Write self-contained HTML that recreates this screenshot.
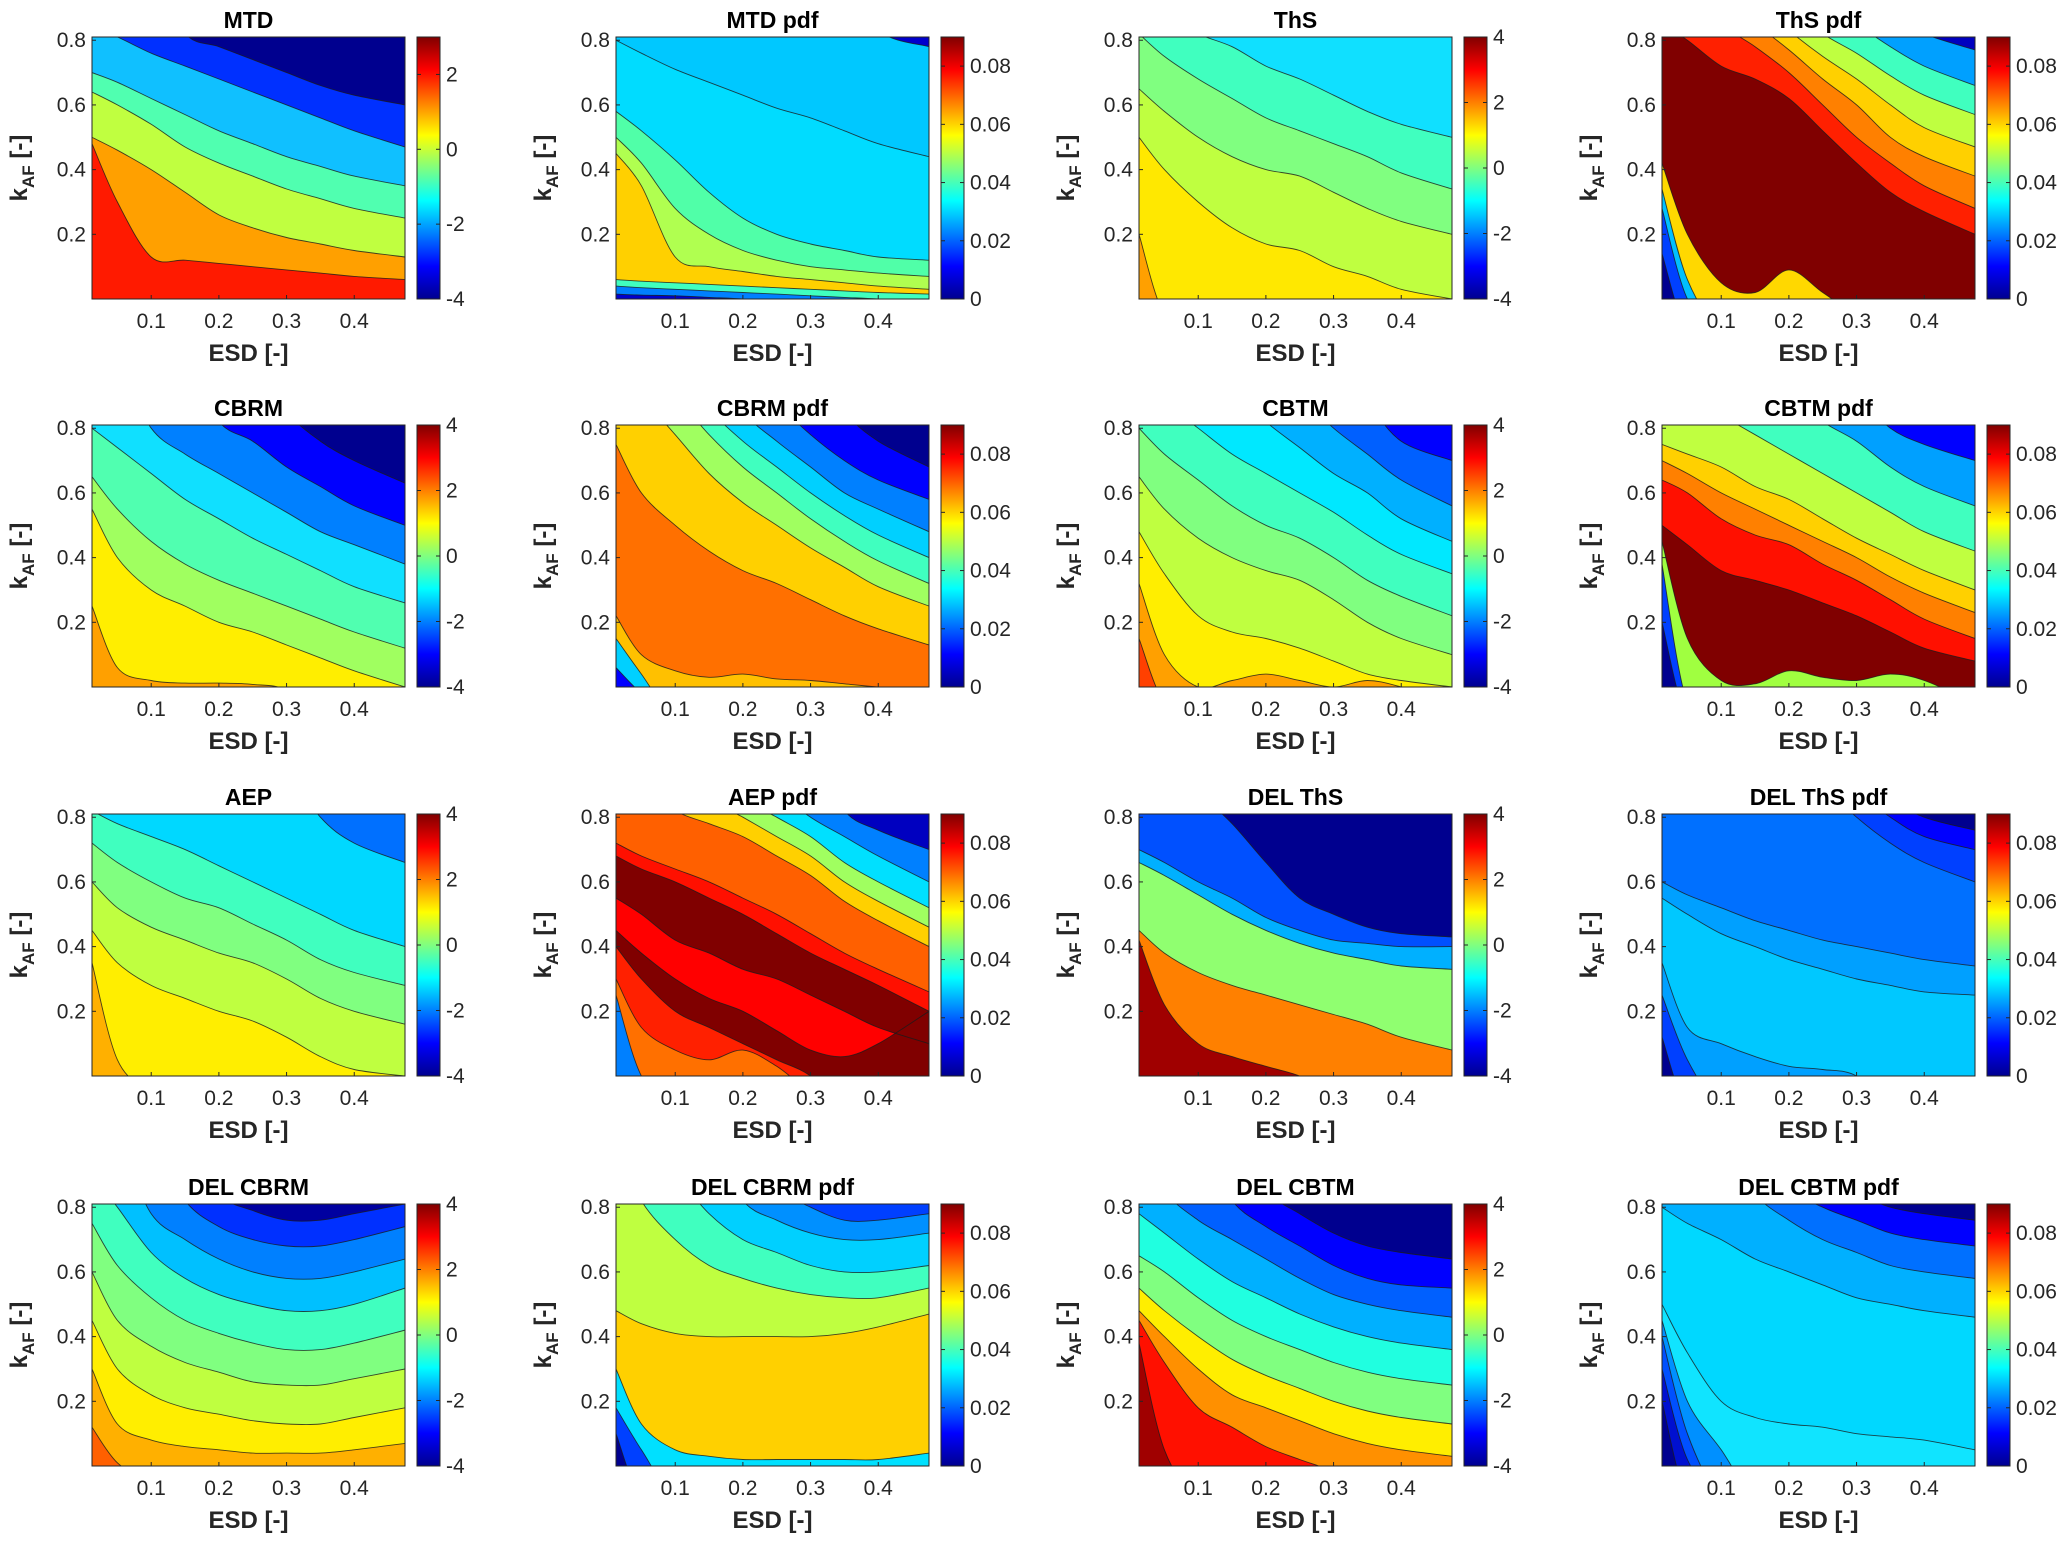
<!DOCTYPE html>
<html><head><meta charset="utf-8">
<style>
html,body{margin:0;padding:0;background:#fff;}
svg{display:block;font-family:"Liberation Sans",Arial,sans-serif;}
</style></head>
<body>
<svg id="fig" width="2067" height="1545" viewBox="0 0 2067 1545" xmlns="http://www.w3.org/2000/svg">
<defs>
<linearGradient id="jet" x1="0" y1="1" x2="0" y2="0">
<stop offset="0" stop-color="#00008f"/><stop offset="0.125" stop-color="#0000ff"/>
<stop offset="0.375" stop-color="#00ffff"/><stop offset="0.625" stop-color="#ffff00"/>
<stop offset="0.875" stop-color="#ff0000"/><stop offset="1" stop-color="#800000"/>
</linearGradient>
</defs>
</svg>
<script>
const esdGrid = [0.0125,0.05,0.1,0.15,0.2,0.25,0.3,0.35,0.4,0.475];
const xTicks = [0.1,0.2,0.3,0.4];
const yTicks = [0.2,0.4,0.6,0.8];
const cbTicksMain = [4,2,0,-2,-4];
const cbTicksMtd = [2,0,-2,-4];
const cbTicksPdf = [0.08,0.06,0.04,0.02,0];
const panelTitles = ["MTD","MTD pdf","ThS","ThS pdf","CBRM","CBRM pdf","CBTM","CBTM pdf","AEP","AEP pdf","DEL ThS","DEL ThS pdf","DEL CBRM","DEL CBRM pdf","DEL CBTM","DEL CBTM pdf"];
const panelIsPdf = [0,1,0,1,0,1,0,1,0,1,0,1,0,1,0,1];
const panelCurves = [
 [[1,1,1,0.82,0.78,0.74,0.7,0.66,0.63,0.6],[0.84,0.81,0.76,0.72,0.68,0.64,0.6,0.56,0.52,0.47],[0.70,0.67,0.62,0.57,0.52,0.48,0.44,0.41,0.38,0.35],[0.64,0.6,0.54,0.47,0.42,0.38,0.34,0.31,0.28,0.25],[0.50,0.46,0.40,0.33,0.26,0.22,0.19,0.17,0.15,0.13],[0.48,0.30,0.13,0.12,0.11,0.10,0.09,0.08,0.07,0.06]],
 [[1,1,1,1,1,1,1,1,0.83,0.78],[0.8,0.76,0.71,0.67,0.63,0.59,0.56,0.52,0.48,0.44],[0.58,0.52,0.43,0.33,0.25,0.2,0.17,0.15,0.13,0.12],[0.5,0.42,0.28,0.2,0.15,0.12,0.1,0.09,0.08,0.07],[0.45,0.35,0.13,0.1,0.085,0.07,0.06,0.05,0.04,0.03],[0.06,0.055,0.05,0.045,0.04,0.035,0.03,0.025,0.02,0.015],[0.04,0.035,0.03,0.025,0.02,0.015,0.01,0.005,0,-0.01],[0.015,0.012,0.01,0.005,0,-0.01,-0.01,-0.01,-0.01,-0.01]],
 [[0.95,0.88,0.82,0.78,0.72,0.68,0.63,0.58,0.54,0.5],[0.82,0.75,0.68,0.62,0.56,0.52,0.48,0.44,0.39,0.34],[0.65,0.58,0.5,0.44,0.4,0.38,0.33,0.28,0.24,0.2],[0.5,0.4,0.3,0.22,0.17,0.15,0.1,0.07,0.03,0.0],[0.2,-0.05,-0.1,-0.1,-0.1,-0.1,-0.1,-0.1,-0.1,-0.1]],
 [[1,1,1,1,1,1,1,0.88,0.82,0.77],[1,1,1,1,1,0.92,0.85,0.78,0.72,0.66],[1,1,1,1,0.9,0.82,0.76,0.69,0.63,0.57],[1,1,1,0.92,0.83,0.75,0.68,0.6,0.53,0.47],[1,1,0.92,0.85,0.77,0.68,0.6,0.5,0.44,0.38],[1,0.96,0.85,0.78,0.7,0.6,0.5,0.42,0.35,0.28],[0.85,0.8,0.72,0.68,0.62,0.52,0.42,0.33,0.27,0.2],[0.42,0.2,0.05,0.02,0.09,0.02,-0.05,-0.1,-0.1,-0.1],[0.34,0.06,-0.1,-0.1,-0.1,-0.1,-0.1,-0.1,-0.1,-0.1],[0.28,0.0,-0.1,-0.1,-0.1,-0.1,-0.1,-0.1,-0.1,-0.1],[0.14,-0.1,-0.1,-0.1,-0.1,-0.1,-0.1,-0.1,-0.1,-0.1]],
 [[1,1,1,1,1,1,0.85,0.76,0.7,0.63],[1,1,1,1,0.82,0.76,0.68,0.62,0.56,0.5],[1,1,0.8,0.72,0.66,0.6,0.54,0.48,0.44,0.38],[0.8,0.74,0.66,0.58,0.52,0.46,0.41,0.36,0.31,0.26],[0.65,0.55,0.45,0.38,0.33,0.29,0.25,0.21,0.17,0.12],[0.55,0.4,0.3,0.25,0.2,0.17,0.13,0.09,0.05,0.0],[0.25,0.06,0.02,0.012,0.012,0.008,-0.01,-0.1,-0.1,-0.1]],
 [[1,1,1,1,1,1,1,0.85,0.76,0.68],[1,1,1,1,1,0.88,0.78,0.7,0.64,0.58],[1,1,1,1,0.85,0.76,0.68,0.6,0.55,0.48],[1,1,1,0.86,0.76,0.68,0.6,0.53,0.47,0.4],[1,1,0.9,0.78,0.68,0.6,0.52,0.45,0.39,0.32],[1,0.9,0.78,0.66,0.57,0.5,0.43,0.37,0.31,0.25],[0.75,0.6,0.5,0.42,0.36,0.32,0.27,0.22,0.18,0.13],[0.22,0.1,0.05,0.03,0.04,0.025,0.02,0.01,0,-0.01],[0.15,0.04,-0.1,-0.1,-0.1,-0.1,-0.1,-0.1,-0.1,-0.1],[0.06,-0.02,-0.1,-0.1,-0.1,-0.1,-0.1,-0.1,-0.1,-0.1]],
 [[1,1,1,1,1,1,1,0.88,0.76,0.7],[1,1,1,1,1,0.9,0.8,0.72,0.64,0.56],[1,1,1,0.92,0.82,0.74,0.66,0.6,0.52,0.45],[0.95,0.88,0.8,0.72,0.66,0.6,0.54,0.47,0.41,0.35],[0.8,0.72,0.64,0.56,0.5,0.46,0.4,0.33,0.28,0.22],[0.65,0.55,0.46,0.4,0.36,0.33,0.27,0.2,0.15,0.1],[0.48,0.35,0.22,0.17,0.15,0.12,0.08,0.04,0.02,0],[0.32,0.1,0,0.02,0.04,0.02,0.0,0.02,0,-0.05],[0.15,-0.05,-0.1,-0.1,-0.1,-0.1,-0.1,-0.1,-0.1,-0.1]],
 [[1,1,1,1,1,1,0.9,0.8,0.75,0.7],[1,1,1,1,0.9,0.82,0.76,0.68,0.62,0.56],[1,0.9,0.84,0.78,0.72,0.66,0.6,0.54,0.48,0.42],[0.75,0.72,0.68,0.62,0.58,0.52,0.46,0.41,0.36,0.3],[0.7,0.66,0.6,0.55,0.5,0.45,0.4,0.34,0.29,0.23],[0.64,0.6,0.52,0.47,0.44,0.38,0.33,0.27,0.21,0.15],[0.5,0.44,0.36,0.33,0.3,0.26,0.22,0.17,0.12,0.08],[0.45,0.15,0.02,0.01,0.05,0.03,0.02,0.04,0.02,-0.05],[0.38,-0.05,-0.1,-0.1,-0.1,-0.1,-0.1,-0.1,-0.1,-0.1],[0.2,-0.1,-0.1,-0.1,-0.1,-0.1,-0.1,-0.1,-0.1,-0.1]],
 [[1,1,1,1,1,1,0.95,0.8,0.72,0.66],[0.82,0.78,0.74,0.7,0.65,0.6,0.55,0.5,0.45,0.4],[0.72,0.66,0.6,0.55,0.52,0.47,0.42,0.36,0.32,0.28],[0.6,0.52,0.46,0.42,0.38,0.35,0.3,0.24,0.2,0.16],[0.45,0.35,0.28,0.24,0.2,0.17,0.12,0.06,0.02,0],[0.35,0.05,-0.05,-0.1,-0.1,-0.1,-0.1,-0.1,-0.1,-0.1]],
 [[1,1,1,1,1,1,1,0.82,0.76,0.7],[1,1,1,1,1,0.88,0.8,0.74,0.68,0.6],[1,1,1,1,0.86,0.8,0.74,0.66,0.6,0.52],[1,1,1,0.86,0.8,0.74,0.68,0.6,0.54,0.46],[1,0.9,0.82,0.78,0.74,0.68,0.62,0.54,0.48,0.4],[0.72,0.68,0.64,0.6,0.55,0.5,0.44,0.38,0.33,0.26],[0.68,0.64,0.6,0.55,0.5,0.44,0.38,0.33,0.28,0.2],[0.55,0.5,0.42,0.38,0.33,0.3,0.25,0.2,0.15,0.1],[0.45,0.38,0.3,0.24,0.2,0.14,0.08,0.06,0.1,0.2],[0.4,0.3,0.2,0.15,0.1,0.05,0,-0.1,-0.1,-0.1],[0.3,0.15,0.08,0.05,0.08,0.03,-0.05,-0.1,-0.1,-0.1],[0.25,0.0,-0.1,-0.1,-0.1,-0.1,-0.1,-0.1,-0.1,-0.1]],
 [[1,1,0.88,0.78,0.66,0.55,0.5,0.46,0.44,0.43],[0.7,0.66,0.6,0.55,0.49,0.45,0.42,0.41,0.4,0.4],[0.66,0.62,0.56,0.5,0.45,0.41,0.38,0.36,0.34,0.33],[0.45,0.38,0.32,0.28,0.25,0.22,0.19,0.16,0.12,0.08],[0.42,0.22,0.1,0.06,0.03,0,-0.05,-0.1,-0.1,-0.1]],
 [[1,1,1,1,1,1,1,0.86,0.8,0.76],[1,1,1,1,1,1,0.88,0.8,0.74,0.7],[1,1,1,1,1,0.9,0.8,0.72,0.66,0.6],[0.6,0.56,0.52,0.48,0.45,0.42,0.4,0.38,0.36,0.34],[0.55,0.5,0.44,0.4,0.36,0.33,0.3,0.28,0.26,0.25],[0.35,0.15,0.1,0.06,0.03,0.02,0,-0.1,-0.1,-0.1],[0.25,0.05,-0.1,-0.1,-0.1,-0.1,-0.1,-0.1,-0.1,-0.1],[0.12,-0.1,-0.1,-0.1,-0.1,-0.1,-0.1,-0.1,-0.1,-0.1]],
 [[1,1,1,1,0.84,0.79,0.76,0.76,0.78,0.81],[1,1,1,0.82,0.74,0.7,0.68,0.68,0.7,0.74],[1,1,0.78,0.7,0.64,0.6,0.58,0.58,0.6,0.64],[0.9,0.8,0.66,0.58,0.53,0.5,0.48,0.48,0.5,0.55],[0.75,0.62,0.52,0.45,0.41,0.38,0.36,0.36,0.38,0.42],[0.6,0.45,0.37,0.32,0.29,0.26,0.25,0.25,0.27,0.3],[0.45,0.3,0.22,0.18,0.16,0.14,0.13,0.13,0.15,0.18],[0.3,0.13,0.08,0.06,0.05,0.04,0.04,0.04,0.05,0.07],[0.12,0.01,-0.05,-0.1,-0.1,-0.1,-0.1,-0.1,-0.1,-0.1]],
 [[1,1,1,1,1,0.86,0.8,0.76,0.76,0.78],[1,1,1,1,0.82,0.76,0.72,0.7,0.7,0.72],[1,1,0.9,0.78,0.7,0.66,0.62,0.6,0.6,0.62],[1,0.82,0.7,0.62,0.58,0.55,0.53,0.52,0.52,0.55],[0.48,0.44,0.41,0.4,0.4,0.4,0.4,0.41,0.43,0.47],[0.3,0.13,0.05,0.03,0.02,0.02,0.02,0.02,0.02,0.04],[0.18,0.05,-0.1,-0.1,-0.1,-0.1,-0.1,-0.1,-0.1,-0.1],[0.1,-0.1,-0.1,-0.1,-0.1,-0.1,-0.1,-0.1,-0.1,-0.1]],
 [[1,1,1,1,0.85,0.78,0.72,0.68,0.66,0.64],[1,1,1,0.82,0.74,0.68,0.62,0.58,0.56,0.55],[1,0.85,0.76,0.7,0.64,0.58,0.53,0.5,0.48,0.46],[0.78,0.72,0.64,0.57,0.52,0.47,0.43,0.4,0.38,0.36],[0.65,0.6,0.52,0.45,0.4,0.36,0.32,0.29,0.27,0.25],[0.55,0.48,0.4,0.33,0.28,0.24,0.2,0.17,0.15,0.13],[0.48,0.4,0.3,0.22,0.18,0.14,0.1,0.07,0.05,0.03],[0.45,0.32,0.18,0.12,0.06,0.02,-0.02,-0.1,-0.1,-0.1],[0.38,0.05,-0.1,-0.1,-0.1,-0.1,-0.1,-0.1,-0.1,-0.1]],
 [[1,1,1,1,1,0.88,0.84,0.8,0.78,0.76],[1,1,1,1,0.86,0.8,0.76,0.72,0.7,0.68],[1,1,1,0.84,0.76,0.7,0.66,0.62,0.6,0.58],[0.8,0.75,0.7,0.64,0.6,0.56,0.52,0.5,0.48,0.46],[0.5,0.35,0.2,0.15,0.13,0.12,0.1,0.09,0.08,0.05],[0.45,0.2,0.05,-0.1,-0.1,-0.1,-0.1,-0.1,-0.1,-0.1],[0.4,0.1,-0.1,-0.1,-0.1,-0.1,-0.1,-0.1,-0.1,-0.1],[0.3,0.02,-0.1,-0.1,-0.1,-0.1,-0.1,-0.1,-0.1,-0.1],[0.2,-0.1,-0.1,-0.1,-0.1,-0.1,-0.1,-0.1,-0.1,-0.1]]
];
const panelColors = [
 ["#00008f","#0030ff","#10c0ff","#50ffb0","#c0ff40","#ffa000","#ff1a00"],
 ["#0000cd","#00c8ff","#00dcff","#50ffa8","#b0ff50","#ffd000","#40ffbf","#0080ff","#0000cd"],
 ["#10e0ff","#40ffbf","#80ff80","#bfff40","#ffe800","#ffa000"],
 ["#0000c0","#00a0ff","#40ffbf","#bfff40","#ffd000","#ff8000","#ff2000","#800000","#ffd800","#00c0ff","#0040ff","#00008f"],
 ["#00008f","#0000ff","#0080ff","#10e0ff","#50ffb0","#a0ff60","#ffee00","#ffa000"],
 ["#00008f","#0000ff","#0080ff","#00d0ff","#40ffbf","#a0ff60","#ffd000","#ff7000","#ffc000","#00d0ff","#0000ff"],
 ["#0000ff","#0060ff","#00b0ff","#00e8ff","#40ffbf","#80ff80","#bfff40","#ffee00","#ffa000","#ff4000"],
 ["#0000ff","#00a0ff","#40ffbf","#c0ff40","#ffd000","#ff8000","#ff1000","#800000","#a0ff40","#0040ff","#00008f"],
 ["#0070ff","#00d8ff","#40ffbf","#80ff80","#bfff40","#ffee00","#ffb000"],
 ["#0000c0","#0080ff","#00e0ff","#a0ff60","#ffd000","#ff6000","#ff1000","#800000","#ff0000","#800000","#ff2000","#ff7000","#0080ff"],
 ["#00008f","#0050ff","#00b0ff","#90ff70","#ff8000","#a00000"],
 ["#00008f","#0000ff","#0040ff","#0070ff","#00a0ff","#00c8ff","#00a0ff","#0040ff","#00008f"],
 ["#0000a0","#0030ff","#0080ff","#00c0ff","#40ffbf","#80ff80","#bfff40","#ffee00","#ffb000","#ff6000"],
 ["#0040ff","#0090ff","#00d0ff","#40ffbf","#bfff40","#ffd000","#00e0ff","#0040ff","#00008f"],
 ["#00008f","#0000ff","#0060ff","#00b0ff","#20ffe0","#80ff80","#ffee00","#ff9000","#ff1000","#a00000"],
 ["#00008f","#0000ff","#0070ff","#00b0ff","#00d8ff","#10e4ff","#0090ff","#0050ff","#0010d0","#00008f"]
];

const NS = "http://www.w3.org/2000/svg";
const fig = document.getElementById('fig');
const colLeft = [92,616,1139,1662], rowTop = [37,425,814,1204];
const PW = 313, PH = 262;
const XMIN = 0.0125, XMAX = 0.475, YMIN = 0, YMAX = 0.81;
function mk(tag, attrs, parent){const e=document.createElementNS(NS,tag);for(const k in attrs)e.setAttribute(k,attrs[k]);(parent||fig).appendChild(e);return e;}
function smoothPath(pts){
  let d = "M"+pts[0][0]+","+pts[0][1];
  for(let i=0;i<pts.length-1;i++){
    const p0=pts[Math.max(0,i-1)],p1=pts[i],p2=pts[i+1],p3=pts[Math.min(pts.length-1,i+2)];
    const c1=[p1[0]+(p2[0]-p0[0])/6,p1[1]+(p2[1]-p0[1])/6];
    const c2=[p2[0]-(p3[0]-p1[0])/6,p2[1]-(p3[1]-p1[1])/6];
    d+=" C"+c1[0]+","+c1[1]+" "+c2[0]+","+c2[1]+" "+p2[0]+","+p2[1];
  }
  return d;
}
panelTitles.forEach((title, p) => {
  const r = Math.floor(p/4), c = p%4;
  const L = colLeft[c], T = rowTop[r];
  const xs = v => L + (v - XMIN)/(XMAX - XMIN)*PW;
  const ys = v => T + PH - (v - YMIN)/(YMAX - YMIN)*PH;
  const g = mk('g', {});
  
  
  const cp = mk('clipPath', {id:'clip'+p}, g);
  mk('rect', {x:L, y:T, width:PW, height:PH}, cp);
  const area = mk('g', {'clip-path':'url(#clip'+p+')'}, g);
  const bg = mk('rect', {x:L, y:T, width:PW, height:PH, fill:panelColors[p][0]}, area);
  
  
  const curves = panelCurves[p];
  const paths = curves.map(cv => smoothPath(cv.map((v,i) => [xs(esdGrid[i]).toFixed(1), ys(v).toFixed(1)].map(Number))));
  paths.forEach((d, i) => {
    const f = mk('path', {d: d + " L"+(L+PW+5)+","+(T+PH+60)+" L"+(L-5)+","+(T+PH+60)+" Z", fill: panelColors[p][i+1] || "#888"}, area);
    
    
  });
  paths.forEach(d => {
    const l = mk('path', {d: d, fill:'none', stroke:'#1a1a1a', 'stroke-width':0.9, 'stroke-opacity':0.8}, area);
    
    
  });
  mk('rect', {x:L, y:T, width:PW, height:PH, fill:'none', stroke:'#262626', 'stroke-width':1}, g);
  xTicks.forEach(t => {
    const x = xs(t);
    mk('line', {x1:x, y1:T+PH, x2:x, y2:T+PH-4, stroke:'#262626'}, g);
    const tx = mk('text', {x:x, y:T+PH+29, 'font-size':21, 'text-anchor':'middle', fill:'#262626'}, g);
    tx.textContent = t.toFixed(1);
    
    
  });
  yTicks.forEach(t => {
    const y = ys(t);
    mk('line', {x1:L, y1:y, x2:L+4, y2:y, stroke:'#262626'}, g);
    const tx = mk('text', {x:L-6, y:y+7, 'font-size':21, 'text-anchor':'end', fill:'#262626'}, g);
    tx.textContent = t.toFixed(1);
    
    
  });
  const tt = mk('text', {x:L+PW/2, y:T-9, 'font-size':23, 'font-weight':'bold', 'text-anchor':'middle', fill:'#000'}, g);
  tt.textContent = title;
  
  
  const xl = mk('text', {x:L+PW/2, y:T+PH+62, 'font-size':24, 'font-weight':'bold', 'text-anchor':'middle', fill:'#262626'}, g);
  xl.textContent = 'ESD [-]';
  
  
  const yl = mk('text', {x:0, y:0, 'font-size':24, 'font-weight':'bold', 'text-anchor':'middle', fill:'#262626', transform:'translate('+(L-65)+','+(T+PH/2)+') rotate(-90)'}, g);
  yl.innerHTML = 'k<tspan font-size="17" dy="7">AF</tspan><tspan dy="-7"> [-]</tspan>';
  
  
  const cx = L + PW + 12, cw = 23;
  const cb = mk('rect', {x:cx, y:T, width:cw, height:PH, fill:'url(#jet)', stroke:'#262626', 'stroke-width':1}, g);
  
  
  let lo, hi, ticks, fmt;
  if (panelIsPdf[p]) { lo=0; hi=0.09; ticks=cbTicksPdf; fmt=v=>v===0?'0':v.toFixed(2); }
  else if (p===0) { lo=-4; hi=3; ticks=cbTicksMtd; fmt=v=>String(v); }
  else { lo=-4; hi=4; ticks=cbTicksMain; fmt=v=>String(v); }
  ticks.forEach(t => {
    const y = T + PH - (t-lo)/(hi-lo)*PH;
    mk('line', {x1:cx, y1:y, x2:cx+4, y2:y, stroke:'#262626'}, g);
    mk('line', {x1:cx+cw-4, y1:y, x2:cx+cw, y2:y, stroke:'#262626'}, g);
    const tx = mk('text', {x:cx+cw+6, y:y+7, 'font-size':21, fill:'#262626'}, g);
    tx.textContent = fmt(t);
    
    
  });
});
</script>
</body></html>
